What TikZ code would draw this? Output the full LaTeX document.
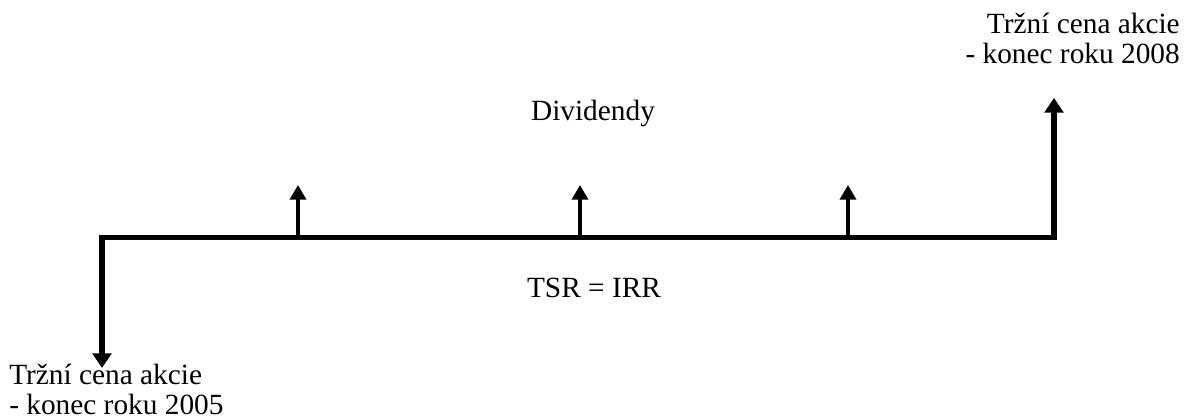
\documentclass[tikz,border=0pt]{standalone}
\usepackage{fontspec}
\setmainfont{Liberation Serif}
\usetikzlibrary{arrows.meta}

\begin{document}
\begin{tikzpicture}[
    x=0.75pt, y=0.75pt,
    axis/.style = {line width=3.8pt},
    flow/.style = {line width=3.8pt, -{Triangle[width=14pt, length=11pt]}},
    divflow/.style = {line width=2.6pt, -{Triangle[width=12pt, length=11pt]}},
    label/.style = {inner sep=0pt, font=\fontsize{22}{22}\selectfont}
]
    \useasboundingbox (0,0) rectangle (1185,419);

    % Time axis
    \coordinate (start) at (102,181.5);
    \coordinate (finish) at (1054,181.5);
    \draw [axis, line cap=rect] (start) -- (finish);

    % Cash flows
    \coordinate (buy) at (102,51);
    \coordinate (sell) at (1054,321);
    \coordinate (d1) at (298,181.5);
    \coordinate (d2) at (580,181.5);
    \coordinate (d3) at (848,181.5);
    \coordinate (d1top) at (298,234);
    \coordinate (d2top) at (580,234);
    \coordinate (d3top) at (848,234);

    \draw [flow] (start) -- (buy);
    \draw [flow] (finish) -- (sell);
    \draw [divflow] (d1) -- (d1top);
    \draw [divflow] (d2) -- (d2top);
    \draw [divflow] (d3) -- (d3top);

    % Labels
    \node (buytext) [label, anchor=north west, align=left] at (9,55) {Tržní cena akcie\\- konec roku 2005};
    \node (selltext) [label, anchor=north east, align=right] at (1180,406) {Tržní cena akcie\\- konec roku 2008};
    \node (divtext) [label, anchor=base] at (593,299) {Dividendy};
    \node (irrtext) [label, anchor=base] at (594,122) {TSR = IRR};

\end{tikzpicture}
\end{document}
